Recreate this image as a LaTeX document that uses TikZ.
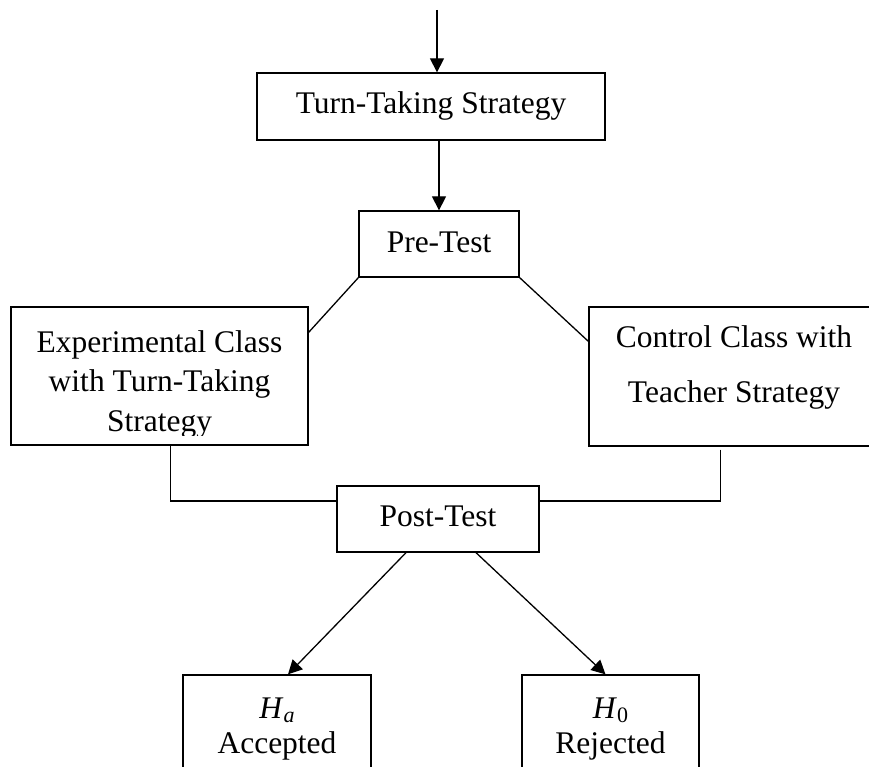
\documentclass[tikz,border=0pt]{standalone}
\usepackage{fontspec}
\setmainfont{Liberation Serif}
\usetikzlibrary{arrows.meta,calc}
\tikzset{
  box/.style={draw, line width=1.3pt, rectangle, inner sep=0pt},
  lbl/.style={anchor=base, inner sep=0pt, font=\fontsize{31.5}{36}\selectfont},
  ln/.style={line width=1.3pt},
  arr/.style={line width=1.3pt, -{Triangle[length=14pt,width=14pt]}}
}
\newcommand{\subsc}[1]{\raisebox{-4.5pt}{\fontsize{22}{22}\selectfont #1}}
\begin{document}
\begin{tikzpicture}[x=1pt,y=-1pt]
\useasboundingbox (0,0) rectangle (869,767);
\clip (0,0) rectangle (869,767);
% boxes
\node[box, minimum width=348pt, minimum height=67pt] (tt) at (431,106.5) {};
\node[box, minimum width=160pt, minimum height=66pt] (pre) at (439,244) {};
\node[box, minimum width=297pt, minimum height=138pt] (exp) at (159.5,376) {};
\node[box, minimum width=290pt, minimum height=139pt] (ctrl) at (734,376.5) {};
\node[box, minimum width=202pt, minimum height=66pt] (post) at (438,519) {};
\node[box, minimum width=188pt, minimum height=150pt] (ha) at (277,750) {};
\node[box, minimum width=177pt, minimum height=150pt] (hz) at (610.5,750) {};
% texts
\node[lbl] (ttl) at (431,114) {Turn-Taking Strategy};
\node[lbl] (prel) at (439,252) {Pre-Test};
\node[lbl] (expl1) at (159.5,352) {Experimental Class};
\node[lbl] (expl2) at (159.5,391) {with Turn-Taking};
\begin{scope}
\clip (11,400) rectangle (308,435);
\node[lbl] (expl3) at (159.5,431) {Strategy};
\end{scope}
\node[lbl] (ctrll1) at (734,347) {Control Class with};
\node[lbl] (ctrll2) at (734,402) {Teacher Strategy};
\node[lbl] (postl) at (438,526) {Post-Test};
\node[lbl] (hal1) at (277,718) {\textit{H}\subsc{\textit{a}}};
\node[lbl] (hal2) at (277,753) {Accepted};
\node[lbl] (hzl1) at (610.5,718) {\textit{H}\subsc{0}};
\node[lbl] (hzl2) at (610.5,753) {Rejected};
% connectors
\coordinate (start) at (437,10);
\draw[arr] (start) -- (start |- tt.north);
\draw[arr] (pre.north |- tt.south) -- (pre.north);
\draw[ln] (pre.south west) -- ($(exp.north east)+(0,26)$);
\draw[ln] (pre.south east) -- ($(ctrl.north west)+(0,35)$);
\draw[ln] ($(exp.south west)+(160,0)$) |- ($(post.west)+(0,-18)$);
\draw[ln] ($(ctrl.south west)+(132,3)$) |- ($(post.east)+(0,-18)$);
\draw[arr] ($(post.south)+(-32,0)$) -- ($(ha.north)+(11,0)$);
\draw[arr] ($(post.south)+(38,0)$) -- ($(hz.north)+(-5,0)$);
\end{tikzpicture}
\end{document}
